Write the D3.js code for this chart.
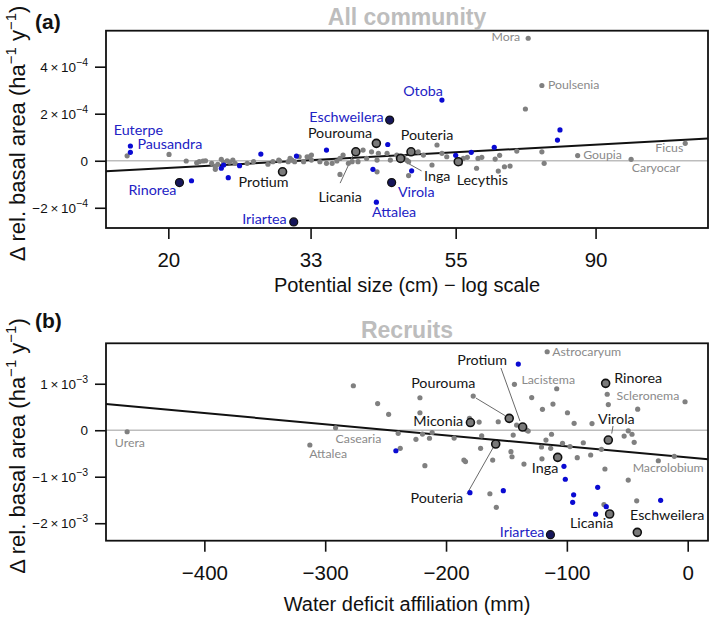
<!DOCTYPE html>
<html><head><meta charset="utf-8">
<script src="https://cdn.jsdelivr.net/npm/d3@7"></script>
<style>html,body{margin:0;padding:0;background:#fff;}</style>
</head><body>
<svg id="c" width="709" height="617"></svg>
<script>
// ---------------- DATA ----------------
// Panel (a): x = potential size (cm, log), y = Δ rel. basal area in units of 1e-4
const aUnit = 1e-4;
const aGrayPts = [[17.3,0.21],[20.05,0.27],[21.3,-0.01],[22.1,-0.085],[22.3,-0.04],[22.6,-0.01],[22.8,0],[23.3,-0.11],[23.6,-0.255],[23.8,-0.15],[24.1,0.06],[24.3,-0.07],[24.6,0],[24.8,-0.055],[25.1,0.03],[25.3,-0.11],[23.6,-0.366],[26.4,-0.11],[27.0,-0.04],[28.4,-0.15],[28.9,-0.04],[29.5,0.03],[29.6,-0.01],[30.5,-0.04],[30.7,0.10],[30.9,0.03],[31.2,-0.04],[31.7,0.17],[32.2,-0.04],[32.6,0.17],[32.9,0.17],[33.1,0.03],[33.1,0.24],[34.1,-0.04],[34.9,-0.11],[35.6,-0.11],[36.2,-0.01],[36.6,0.10],[37.0,0.24],[36.6,-0.58],[37.7,-0.11],[38.2,-0.04],[39.0,-0.04],[39.7,0.455],[40.2,0.10],[40.9,0.38],[41.7,0.03],[41.7,-0.47],[41.9,0.315],[43.2,0.315],[43.7,0.03],[44.7,0.24],[45.8,0.17],[46.3,0.03],[46.6,-0.04],[46.6,-0.63],[48.2,0.38],[49.1,0.24],[50.6,-0.18],[51.5,0.67],[52.4,0.315],[53.3,0.17],[55.9,-0.11],[56.5,0.10],[57.3,0.145],[59.5,0.10],[59.2,-0.32],[60.3,0.145],[63.2,0.07],[64.2,0.23],[63.9,-0.44],[65.3,-0.255],[66.6,-0.225],[68.2,0.41],[70.3,2.2],[74.5,0.38],[75.1,-0.11]];
const aBluePts = [[21.7,-0.85],[24.1,-0.32],[24.3,-0.18],[24.7,-0.72],[25.7,-0.21],[27.7,0.285],[31.4,0.20],[34.9,0.455],[41.1,-0.366],[43.3,0.69],[47.1,-0.43],[55.0,0.23],[58.1,0.36],[63.0,0.57],[78.7,0.88],[79.4,1.31]];
const aGrayNamed = [["Mora",71.0,5.21],["Poulsenia",74.5,3.2],["Goupia",84.5,0.22],["Caryocar",102.0,0.06],["Ficus",123.4,0.74]];
const aBlueNamed = [["Euterpe",17.5,0.626],["Pausandra",17.5,0.36],["Attalea",41.6,-1.76],["Otoba",52.4,2.58]];
const aDarkNamed = [["Rinorea",20.8,-0.93],["Iriartea",31.1,-2.6],["Eschweilera",43.6,1.73],["Virola",43.9,-0.93]];
const aRingNamed = [["Protium",29.9,-0.47],["Licania",38.7,0.38],["Pourouma",41.6,0.74],["Inga",45.3,0.10],["Pouteria",47.0,0.38],["Lecythis",55.5,-0.04]];
const aFit = [[16.06,-0.451],[133.7,0.945]];
const aXTicks = [20,33,55,90];
const aYTicks = [-2,0,2,4];

// Panel (b): x = water deficit affiliation (mm), y = Δ rel. basal area in units of 1e-3
const bUnit = 1e-3;
const bGrayPts = [[-276.7,0.957],[-256.6,0.574],[-247.5,0.342],[-239.6,-0.067],[-237.9,-0.389],[-224.9,-0.196],[-219.5,-0.082],[-213.7,-0.172],[-211.5,-0.049],[-217.5,-0.763],[-221.6,0.699],[-221.6,0.376],[-193.3,-0.168],[-185.2,-0.641],[-183.9,-0.673],[-180.6,0.256],[-177.5,0.735],[-172.6,0.176],[-170.5,-0.12],[-171.4,-0.389],[-163.7,-1.366],[-158.4,-1.658],[-161.4,-0.641],[-156.8,0.183],[-146.3,-0.462],[-145.4,-0.57],[-144.4,-0.103],[-141.6,0.112],[-135.5,-0.727],[-133.3,0.004],[-132,-0.017],[-129.1,0.703],[-120.2,0.449],[-121,-0.361],[-117.3,-0.211],[-120.6,-0.615],[-111.5,0.563],[-112.7,-0.086],[-113.4,-0.389],[-108.4,0.892],[-103.6,-0.282],[-99.5,0.376],[-97.4,-0.351],[-94,0.148],[-91.4,-0.591],[-86.4,-0.269],[-80.3,-0.533],[-79.2,0.144],[-69.3,-1.598],[-68.5,-0.834],[-71.4,-0.411],[-65.7,0.553],[-2.2,0.613],[-42.2,-1.518],[-24.3,-0.656],[-11.1,-0.561],[-52.6,-0.125],[-49.2,-0.013],[-46.1,-0.086],[-44.3,-0.26],[-41.4,0.452]];
const bBluePts = [[-241.5,-0.441],[-180.2,-1.344],[-152.6,-1.301],[-140.2,1.424],[-102.4,-0.776],[-101.3,-1.054],[-74.5,-1.228],[-94.4,-1.389],[-95.2,-1.551],[-67.4,-1.645],[-76.2,-1.806],[-22.4,-1.508]];
const bGrayNamed = [["Urera",-463.9,-0.032],["Attalea",-312.7,-0.318],["Casearia",-291.4,0.054],["Lacistema",-143.4,0.987],["Astrocaryum",-116.3,1.688],["Scleronema",-66.6,0.774],["Macrolobium",-49.2,-1.071]];
const bBlueNamed = [];
const bDarkNamed = [["Iriartea",-113.6,-2.247]];
const bRingNamed = [["Miconia",-179.8,0.166],["Pourouma",-147.7,0.256],["Protium",-136.6,0.069],["Pouteria",-158.9,-0.297],["Inga",-107.6,-0.583],["Rinorea",-67.9,1.009],["Virola",-65.7,-0.211],["Licania",-64.6,-1.802],["Eschweilera",-41.7,-2.196]];
const bFit = [[-481.4,0.563],[16.8,-0.626]];
const bXTicks = [-400,-300,-200,-100,0];
const bYTicks = [-2,-1,0,1];

// ---------------- LAYOUT / STYLE ----------------
const labLayoutA = {
  Euterpe:{dx:-16.7,dy:-11,a:"start"}, Pausandra:{dx:7,dy:-3,a:"start"},
  Attalea:{dx:-4.3,dy:14.5,a:"start"}, Otoba:{dx:1,dy:-4,a:"end"},
  Rinorea:{dx:-3,dy:12.5,a:"end"}, Iriartea:{dx:-7,dy:2,a:"end"},
  Eschweilera:{dx:-6,dy:1.5,a:"end"}, Virola:{dx:6.3,dy:14,a:"start"},
  Protium:{dx:-19,dy:15.3,a:"middle"},
  Licania:{dx:-15.7,dy:49.8,a:"middle",lead:[-2.7,3.3,-15.7,31.3]},
  Pourouma:{dx:-4.3,dy:-5.8,a:"end"},
  Inga:{dx:23.5,dy:23,a:"start",lead:[4,3,21,12.5]},
  Pouteria:{dx:16,dy:-11.7,a:"middle"}, Lecythis:{dx:-1.6,dy:23.3,a:"start"},
  Mora:{dx:-8,dy:3,a:"end"}, Poulsenia:{dx:6,dy:3.5,a:"start"},
  Goupia:{dx:5.5,dy:3.5,a:"start"}, Caryocar:{dx:0.7,dy:12.7,a:"start"},
  Ficus:{dx:-2,dy:8.7,a:"end"}
};
const labLayoutB = {
  Urera:{dx:-12.3,dy:15,a:"start"}, Attalea:{dx:-0.7,dy:13,a:"start"},
  Casearia:{dx:0,dy:15.3,a:"start"}, Lacistema:{dx:7,dy:0,a:"start"},
  Astrocaryum:{dx:5,dy:4.6,a:"start"}, Scleronema:{dx:9.4,dy:5.8,a:"start"},
  Macrolobium:{dx:4.4,dy:-7.7,a:"start"},
  Protium:{dx:-40.5,dy:-62,a:"middle",lead:[-2.7,-6,-21.7,-59]},
  Pourouma:{dx:-66,dy:-30.8,a:"middle",lead:[-4.3,-2.8,-33.3,-20.3]},
  Miconia:{dx:-7.2,dy:3,a:"end"},
  Pouteria:{dx:-58.8,dy:59,a:"middle",lead:[-2.8,4,-28.8,50]},
  Inga:{dx:0.6,dy:15.2,a:"end"}, Rinorea:{dx:8.6,dy:0,a:"start"},
  Virola:{dx:8,dy:-16,a:"middle",lead:[3.4,-6.5,4.7,-14]},
  Licania:{dx:-18,dy:14,a:"middle"}, Eschweilera:{dx:-7.3,dy:-12.3,a:"start"},
  Iriartea:{dx:-6,dy:1.8,a:"end"}
};

const AXF = "'Liberation Sans', Arial, sans-serif";
const LBF = "Lato, 'Open Sans', sans-serif";
const C_GRAY = "#808080", C_BLUE = "#0a0ad2", C_DARK = "#16165a", C_LBLUE = "#2222c4", C_LGRAY = "#8a8a8a";

const svg = d3.select("#c");

function panel(cfg) {
  const g = svg.append("g");
  const x = cfg.x, y = cfg.y;
  const [L, R] = x.range(), [B, T] = y.range();
  g.append("line").attr("x1", L).attr("x2", R).attr("y1", y(0)).attr("y2", y(0))
    .attr("stroke", "#bdbdbd").attr("stroke-width", 1.6);
  g.append("line")
    .attr("x1", x(cfg.fit[0][0])).attr("y1", y(cfg.fit[0][1]*cfg.unit))
    .attr("x2", x(cfg.fit[1][0])).attr("y2", y(cfg.fit[1][1]*cfg.unit))
    .attr("stroke", "#111").attr("stroke-width", 2);
  const xa = d3.axisBottom(x).tickValues(cfg.xt).tickSize(11).tickFormat(cfg.xfmt);
  const gx = g.append("g").attr("transform", `translate(0,${B})`).call(xa);
  gx.select(".domain").remove();
  gx.selectAll(".tick line").attr("stroke", "#111").attr("stroke-width", 1.6);
  gx.selectAll(".tick text").attr("font-family", AXF).attr("font-size", 20.5).attr("fill", "#111")
    .attr("y", 28).attr("dy", 0).attr("transform", "translate(0,11)");
  const ya = d3.axisLeft(y).tickValues(cfg.yt.map(v => v*cfg.unit)).tickSize(11).tickFormat("");
  const gy = g.append("g").attr("transform", `translate(${L},0)`).call(ya);
  gy.select(".domain").remove();
  gy.selectAll(".tick line").attr("stroke", "#111").attr("stroke-width", 1.6);
  gy.selectAll(".tick").each(function(d, i) {
    const v = cfg.yt[i];
    const t = d3.select(this).append("text").attr("x", -18).attr("y", 4.5)
      .attr("text-anchor", "end").attr("font-family", AXF).attr("font-size", 13.5).attr("fill", "#111");
    if (v === 0) { t.text("0"); return; }
    t.append("tspan").text((v < 0 ? "\u2212" : "") + Math.abs(v) + "\u2009\u00d7\u200910");
    t.append("tspan").attr("dy", -6).attr("font-size", 10.5).text("\u2212" + cfg.exp);
  });
  g.append("rect").attr("x", L).attr("y", T).attr("width", R - L).attr("height", B - T)
    .attr("fill", "none").attr("stroke", "#111").attr("stroke-width", 1.8);

  const P = d => [x(d[0]), y(d[1]*cfg.unit)];
  const Pn = d => [x(d[1]), y(d[2]*cfg.unit)];
  const named = [...cfg.grayN, ...cfg.blueN, ...cfg.darkN, ...cfg.ringN];
  named.forEach(d => {
    const lay = cfg.lay[d[0]]; if (!lay || !lay.lead) return;
    const [px, py] = Pn(d);
    g.append("line").attr("x1", px + lay.lead[0]).attr("y1", py + lay.lead[1])
      .attr("x2", px + lay.lead[2]).attr("y2", py + lay.lead[3])
      .attr("stroke", "#6a6a6a").attr("stroke-width", 1);
  });
  g.selectAll(null).data(cfg.gray.concat(cfg.grayN.map(d => [d[1], d[2]]))).enter().append("circle")
    .attr("cx", d => P(d)[0]).attr("cy", d => P(d)[1]).attr("r", 2.6).attr("fill", C_GRAY);
  g.selectAll(null).data(cfg.blue.concat(cfg.blueN.map(d => [d[1], d[2]]))).enter().append("circle")
    .attr("cx", d => P(d)[0]).attr("cy", d => P(d)[1]).attr("r", 2.6).attr("fill", C_BLUE);
  g.selectAll(null).data(cfg.ringN).enter().append("circle")
    .attr("cx", d => Pn(d)[0]).attr("cy", d => Pn(d)[1]).attr("r", 4).attr("fill", "#7a7a7a")
    .attr("stroke", "#111").attr("stroke-width", 1.6);
  g.selectAll(null).data(cfg.darkN).enter().append("circle")
    .attr("cx", d => Pn(d)[0]).attr("cy", d => Pn(d)[1]).attr("r", 4).attr("fill", C_DARK)
    .attr("stroke", "#111").attr("stroke-width", 1.2);
  const addLab = (arr, color, size) => arr.forEach(d => {
    const lay = cfg.lay[d[0]]; const [px, py] = Pn(d);
    g.append("text").attr("x", px + lay.dx).attr("y", py + lay.dy).attr("text-anchor", lay.a)
      .attr("font-family", LBF).attr("font-size", size).attr("fill", color).text(d[0]);
  });
  addLab(cfg.grayN, C_LGRAY, 12.3);
  addLab(cfg.blueN, C_LBLUE, 14.3);
  addLab(cfg.darkN, C_LBLUE, 14.3);
  addLab(cfg.ringN, "#151515", 14.3);

  svg.append("text").attr("x", 35).attr("y", cfg.tagY).attr("font-family", AXF).attr("font-weight", "bold")
    .attr("font-size", 21).attr("fill", "#111").text(cfg.tag);
  svg.append("text").attr("x", (L + R) / 2).attr("y", cfg.titleY).attr("text-anchor", "middle")
    .attr("font-family", AXF).attr("font-weight", "bold").attr("font-size", 23).attr("fill", "#bdbdbd").text(cfg.title);
  svg.append("text").attr("x", (L + R) / 2).attr("y", cfg.xlabY).attr("text-anchor", "middle")
    .attr("font-family", AXF).attr("font-size", 20).attr("fill", "#111").text(cfg.xlab);
  const yl = svg.append("text").attr("transform", `translate(25,${(T + B) / 2 + 4}) rotate(-90)`)
    .attr("text-anchor", "middle").attr("font-family", AXF).attr("font-size", 22).attr("fill", "#111");
  yl.append("tspan").text("\u0394 rel. basal area (ha");
  yl.append("tspan").attr("dy", -9).attr("font-size", 15).text("\u22121");
  yl.append("tspan").attr("dy", 9).text(" y");
  yl.append("tspan").attr("dy", -9).attr("font-size", 15).text("\u22121");
  yl.append("tspan").attr("dy", 9).text(")");
}

panel({
  x: d3.scaleLog().domain([16.06, 133.7]).range([106, 708]),
  y: d3.scaleLinear().domain([-2.86e-4, 5.53e-4]).range([228, 30.7]),
  unit: aUnit, exp: 4, xt: aXTicks, yt: aYTicks, xfmt: d => String(d),
  gray: aGrayPts, blue: aBluePts, grayN: aGrayNamed, blueN: aBlueNamed, darkN: aDarkNamed, ringN: aRingNamed,
  fit: aFit, lay: labLayoutA, tag: "(a)", tagY: 29, title: "All community", titleY: 25,
  xlab: "Potential size (cm) \u2212 log scale", xlabY: 292
});
panel({
  x: d3.scaleLinear().domain([-481.4, 16.8]).range([106, 708]),
  y: d3.scaleLinear().domain([-2.376e-3, 1.87e-3]).range([540.7, 343.3]),
  unit: bUnit, exp: 3, xt: bXTicks, yt: bYTicks, xfmt: d => (d < 0 ? "\u2212" : "") + Math.abs(d),
  gray: bGrayPts, blue: bBluePts, grayN: bGrayNamed, blueN: bBlueNamed, darkN: bDarkNamed, ringN: bRingNamed,
  fit: bFit, lay: labLayoutB, tag: "(b)", tagY: 328, title: "Recruits", titleY: 338,
  xlab: "Water deficit affiliation (mm)", xlabY: 611
});
</script>
</body></html>
